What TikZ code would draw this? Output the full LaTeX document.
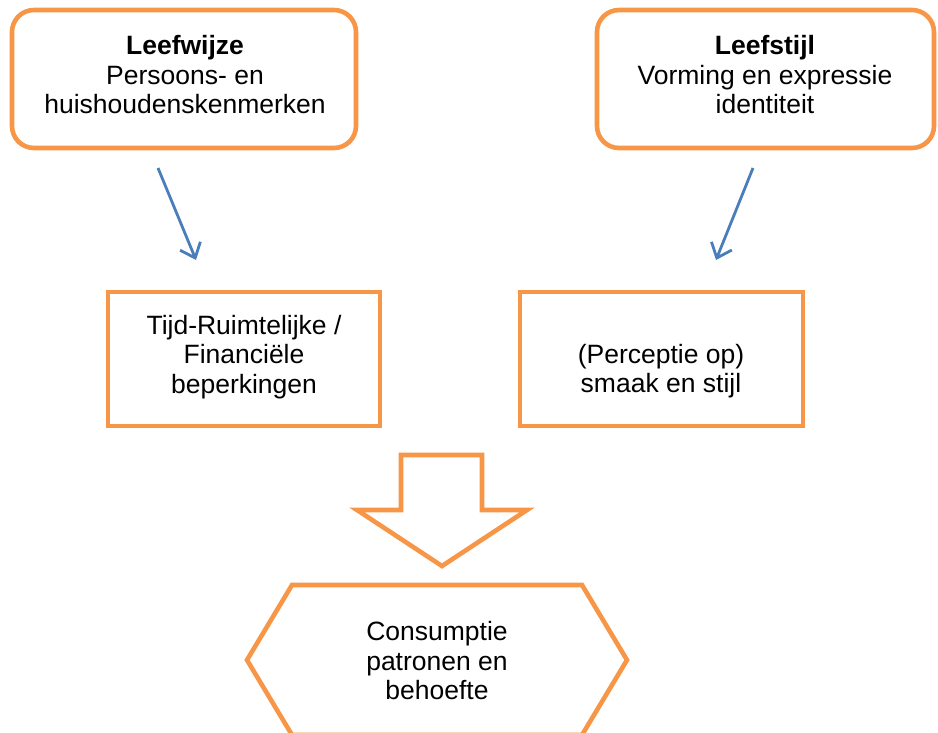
\documentclass[tikz,border=0pt]{standalone}
\usepackage{fontspec}
\setmainfont{Liberation Sans}
\usetikzlibrary{arrows.meta}
\definecolor{boxorange}{HTML}{F79646}
\definecolor{arrowblue}{HTML}{4A7EBB}
\begin{document}
\begin{tikzpicture}[x=1pt,y=-1pt,
  every node/.style={font=\fontsize{26.5}{29.5}\selectfont, align=center, text=black},
  rbox/.style={draw=boxorange, line width=4.6pt, rounded corners=22pt},
  sbox/.style={draw=boxorange, line width=4.6pt},
  link/.style={draw=arrowblue, line width=2.8pt, -{Straight Barb[length=13pt,width=22pt,line width=2.8pt]}},
  bigshape/.style={draw=boxorange, line width=4.6pt, line join=miter}]
\useasboundingbox (0,0) rectangle (938,733);
% top rounded boxes
\draw[rbox] (12,10) rectangle (356,148);
\node (b1) at (185,75) {\textbf{Leefwijze}\\Persoons- en\\huishoudenskenmerken};
\draw[rbox] (597,10) rectangle (934,148);
\node (b2) at (765,75) {\textbf{Leefstijl}\\Vorming en expressie\\identiteit};
% blue arrows
\coordinate (a1s) at (158,168);
\coordinate (a1e) at (196,260);
\coordinate (a2s) at (753,168);
\coordinate (a2e) at (716,260);
\draw[link] (a1s) -- (a1e);
\draw[link] (a2s) -- (a2e);
% middle boxes
\draw[sbox] (108,292) rectangle (380,426);
\node (m1) at (244,357) {Tijd-Ruimtelijke /\\Financiële\\beperkingen};
\draw[sbox] (520,292) rectangle (803,426);
\node (m2) at (661,371) {(Perceptie op)\\smaak en stijl};
% big down arrow
\draw[bigshape] (401,455) -- (482,455) -- (482,510) -- (527,510) -- (442,566) -- (357,510) -- (401,510) -- cycle;
% hexagon
\draw[bigshape] (292,585) -- (582,585) -- (627,660) -- (582,735) -- (292,735) -- (247,660) -- cycle;
\node (c) at (437,661) {Consumptie\\patronen en\\behoefte};
\end{tikzpicture}
\end{document}
